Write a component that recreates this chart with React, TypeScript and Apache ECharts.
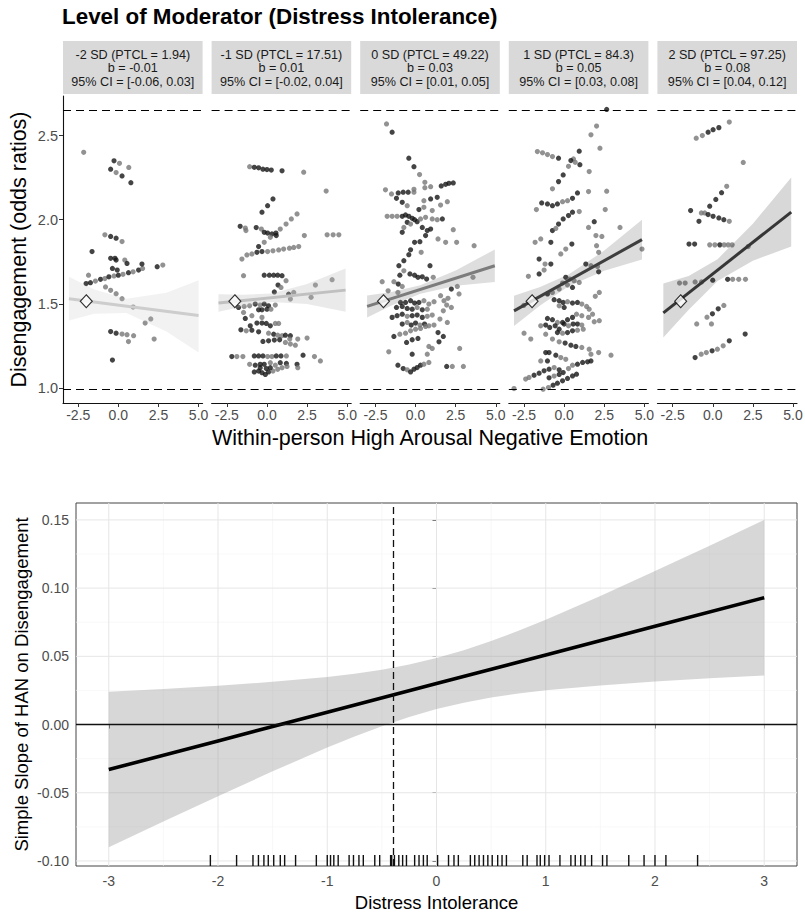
import React, { useEffect, useRef } from "react";
import * as echarts from "echarts";

const FONT = "'Liberation Sans', Arial, Helvetica, sans-serif";

// ---------- top facets ----------
const TITLE = "Level of Moderator (Distress Intolerance)";
const X_TITLE_TOP = "Within-person High Arousal Negative Emotion";
const Y_TITLE_TOP = "Disengagement (odds ratios)";
const stripLabels = [
  ["-2 SD (PTCL = 1.94)", "b = -0.01", "95% CI = [-0.06, 0.03]"],
  ["-1 SD (PTCL = 17.51)", "b = 0.01", "95% CI = [-0.02, 0.04]"],
  ["0 SD (PTCL = 49.22)", "b = 0.03", "95% CI = [0.01, 0.05]"],
  ["1 SD (PTCL = 84.3)", "b = 0.05", "95% CI = [0.03, 0.08]"],
  ["2 SD (PTCL = 97.25)", "b = 0.08", "95% CI = [0.04, 0.12]"],
];
const panelXTicks = [-2.5, 0, 2.5, 5];
const panelYTicks = [1.0, 1.5, 2.0, 2.5];
const refLines = [2.655, 0.99];
const diamondPt = [-2, 1.515];

// points: [x, y, k]  k = 1 black, 0 grey
const p1Points = [
  [-2.16, 2.4, 0], [-0.27, 2.35, 1], [0.07, 2.335, 0], [-0.48, 2.3, 1], [-0.14, 2.28, 0], [0.23, 2.26, 1], [0.65, 2.31, 0], [0.78, 2.22, 1],
  [-1.64, 1.81, 1], [-0.84, 1.91, 0], [-0.48, 1.9, 1], [-0.14, 1.89, 1], [0.23, 1.87, 0],
  [-0.48, 1.77, 1], [-0.21, 1.77, 1], [-0.14, 1.76, 1], [0.4, 1.76, 0], [0.54, 1.74, 1], [-0.37, 1.71, 1], [-0.07, 1.7, 1], [-1.86, 1.67, 0],
  [-2.01, 1.62, 1], [-1.74, 1.625, 1], [-1.43, 1.635, 0], [-1.11, 1.645, 1], [-0.84, 1.65, 0], [-0.59, 1.66, 1], [-0.27, 1.665, 0], [0.0, 1.67, 1],
  [0.29, 1.675, 0], [0.63, 1.685, 1], [0.92, 1.69, 0], [1.26, 1.7, 1], [1.51, 1.71, 0],
  [1.47, 1.736, 1], [2.42, 1.72, 1], [2.77, 1.73, 0],
  [-0.8, 1.6, 0], [-0.48, 1.58, 0], [-0.14, 1.56, 0], [0.23, 1.53, 0], [0.92, 1.48, 0],
  [1.67, 1.385, 0], [2.02, 1.41, 0], [2.23, 1.29, 0],
  [-0.48, 1.335, 1], [-0.14, 1.325, 1], [0.23, 1.32, 0], [0.54, 1.316, 0], [0.95, 1.31, 0], [0.63, 1.275, 0],
  [-0.37, 1.165, 1],
];
const p2Points = [
  [-1.08, 2.315, 0], [-0.79, 2.311, 1], [-0.52, 2.308, 1], [-0.25, 2.3, 1], [0, 2.298, 1], [0.27, 2.295, 1], [0.94, 2.29, 1], [2.29, 2.282, 0],
  [3.69, 2.17, 0], [0.375, 2.123, 1], [0.04, 2.083, 1], [-0.31, 2.044, 1],
  [-1.67, 1.96, 1], [-1.35, 1.95, 0], [-1.31, 1.935, 0], [-0.67, 1.953, 1], [-0.35, 1.944, 0], [-0.17, 1.925, 1], [0.04, 1.92, 1], [0.31, 1.915, 1],
  [0.56, 1.92, 1], [0.58, 1.905, 1], [0.21, 1.895, 0], [-0.17, 1.865, 0], [-0.52, 1.84, 1],
  [0.83, 1.944, 0], [1.19, 1.974, 0], [1.52, 2.004, 0], [1.875, 2.034, 0],
  [2.33, 1.905, 0], [3.75, 1.91, 0], [4.125, 1.91, 0], [4.48, 1.91, 0],
  [-1.56, 1.766, 0], [-1.25, 1.79, 0], [-0.94, 1.796, 0], [-0.625, 1.806, 1], [-0.31, 1.81, 1], [0.04, 1.81, 0], [0.375, 1.815, 0], [0.73, 1.82, 0],
  [1.04, 1.825, 0], [1.4, 1.83, 0], [1.67, 1.835, 0], [1.98, 1.84, 0],
  [-1.46, 1.667, 0], [-0.17, 1.67, 1], [0.15, 1.67, 1], [0.42, 1.67, 1], [0.67, 1.67, 1], [0.94, 1.667, 1], [1.19, 1.637, 0],
  [0.69, 1.611, 1], [0.875, 1.597, 0], [3.02, 1.611, 0], [4.06, 1.643, 0],
  [1.67, 1.567, 0], [1.35, 1.557, 1], [0.46, 1.57, 1], [2.75, 1.538, 0], [1.46, 1.528, 0],
  [-1.77, 1.478, 1], [-1.42, 1.484, 0], [-1.08, 1.488, 0], [-0.73, 1.498, 1], [-0.42, 1.492, 0], [-0.17, 1.498, 1], [0.1, 1.488, 1], [0.52, 1.492, 0],
  [-1.46, 1.448, 0], [-0.52, 1.464, 1], [-0.31, 1.464, 1], [0, 1.468, 1], [0.25, 1.468, 0],
  [-1.35, 1.413, 1], [-0.94, 1.429, 0], [-0.31, 1.419, 0],
  [-1.04, 1.369, 1], [-0.625, 1.385, 1], [-0.31, 1.385, 1], [-0.04, 1.383, 1], [0.21, 1.369, 1], [0.52, 1.383, 0], [0.73, 1.383, 0],
  [-1.625, 1.345, 1], [-1.29, 1.339, 0], [-0.94, 1.343, 1], [-0.52, 1.333, 1],
  [0.1, 1.325, 0], [0.42, 1.319, 1], [0.67, 1.313, 0], [0.94, 1.31, 0], [1.15, 1.313, 1], [1.46, 1.31, 1], [1.42, 1.29, 0], [1.92, 1.29, 0], [2.5, 1.296, 0],
  [-0.25, 1.276, 1], [0.1, 1.28, 1], [0.46, 1.284, 1], [0.79, 1.286, 1], [1.15, 1.27, 0], [1.46, 1.26, 0], [1.77, 1.254, 0],
  [-2.19, 1.186, 1], [-1.875, 1.186, 0], [-1.5, 1.186, 0], [-0.79, 1.19, 1], [-0.52, 1.19, 1], [-0.25, 1.19, 1], [0.04, 1.186, 0], [0.31, 1.186, 0],
  [0.58, 1.19, 1], [0.875, 1.19, 1], [1.21, 1.19, 0], [2.25, 1.194, 1], [2.96, 1.186, 0], [3.33, 1.16, 0],
  [-1.08, 1.14, 0], [-0.73, 1.135, 1], [-0.42, 1.14, 1], [-0.17, 1.14, 1], [0.21, 1.15, 0], [0.52, 1.135, 0], [0.83, 1.15, 1], [1.21, 1.145, 1],
  [1.875, 1.14, 1], [1.92, 1.12, 0],
  [-0.79, 1.095, 1], [-0.52, 1.1, 1], [-0.31, 1.09, 1], [-0.1, 1.08, 1], [0.1, 1.095, 1], [0.375, 1.1, 0], [0.67, 1.11, 0], [0.94, 1.12, 0],
  [1.25, 1.127, 0], [-0.42, 1.12, 1], [-0.04, 1.115, 1], [0.21, 1.12, 1],
];
const p3Points = [
  [-1.81, 2.569, 0], [-1.46, 2.52, 1], [-0.42, 2.365, 1], [-0.1, 2.315, 1], [0.25, 2.268, 0], [0.58, 2.222, 0], [0.94, 2.196, 0], [0.58, 2.19, 0],
  [1.6, 2.2, 1], [1.875, 2.21, 1], [2.08, 2.216, 1], [2.35, 2.218, 1],
  [-1.875, 2.177, 0], [-1.5, 2.153, 0], [-1.08, 2.159, 1], [-0.77, 2.163, 1], [-0.46, 2.163, 1], [-0.1, 2.163, 0], [-0.1, 2.18, 0],
  [-1.19, 2.127, 1], [-0.83, 2.103, 1], [-0.52, 2.083, 0], [0.52, 2.113, 0], [0.94, 2.123, 1], [1.35, 2.133, 1], [1.98, 2.107, 0], [1.56, 2.087, 0],
  [1.04, 2.054, 0], [0.52, 2.073, 0], [0.21, 2.06, 1],
  [-1.77, 2.02, 0], [-1.46, 2.02, 0], [-1.15, 2.02, 0], [-0.83, 2.02, 1], [-0.625, 2.028, 1], [-0.42, 2.02, 1], [-0.21, 2.008, 1], [-0.06, 2.0, 1],
  [0.1, 1.988, 1], [0.31, 2.004, 0], [0.625, 2.014, 0], [1.04, 2.004, 0], [1.35, 2.0, 0], [1.67, 2.004, 1],
  [-0.52, 1.984, 1], [-0.31, 1.974, 0], [-0.73, 1.954, 0], [-0.83, 1.925, 1], [0.42, 1.954, 1], [0.73, 1.935, 1], [0.94, 1.944, 1], [0.625, 1.905, 1],
  [1.4, 1.885, 0], [1.875, 1.865, 0], [2.35, 1.94, 0], [2.56, 1.865, 0], [3.65, 1.845, 0],
  [-0.06, 1.865, 1], [0.27, 1.869, 1], [-0.31, 1.821, 1], [0.35, 1.806, 0], [-0.42, 1.792, 1], [-0.73, 1.756, 1], [-1.04, 1.726, 1], [-0.73, 1.696, 0], [-0.98, 1.67, 1],
  [-0.35, 1.677, 1], [-0.06, 1.67, 1], [0.15, 1.657, 1], [0.42, 1.66, 1], [0.69, 1.647, 1], [0.9, 1.726, 1], [1.1, 1.657, 0],
  [-2.08, 1.631, 0], [-1.35, 1.631, 0], [-1.08, 1.617, 1], [-0.83, 1.603, 0], [-1.71, 1.577, 0], [-1.1, 1.567, 0],
  [3.58, 1.657, 0], [2.6, 1.603, 0], [2.23, 1.587, 1], [2.71, 1.558, 0], [1.56, 1.548, 0], [2.02, 1.532, 0], [1.77, 1.518, 0], [1.94, 1.492, 0],
  [2.23, 1.478, 0], [1.73, 1.458, 0], [1.98, 1.389, 0], [1.52, 1.409, 0],
  [-0.94, 1.508, 1], [-0.625, 1.508, 1], [-0.31, 1.518, 1], [-0.06, 1.504, 1], [0.21, 1.508, 1], [0.52, 1.518, 0], [0.83, 1.498, 0], [1.15, 1.512, 0],
  [-1.19, 1.478, 1], [-0.83, 1.484, 1], [-0.52, 1.472, 1], [-0.21, 1.468, 1], [0.1, 1.478, 0], [0.42, 1.464, 1], [0.73, 1.468, 0],
  [-1.46, 1.419, 1], [-1.15, 1.429, 1], [-0.83, 1.438, 1], [-0.52, 1.425, 0], [-0.21, 1.429, 1], [0.1, 1.433, 1], [0.42, 1.419, 1], [0.73, 1.425, 0], [1.04, 1.433, 0],
  [-0.83, 1.379, 1], [-0.52, 1.389, 0], [-0.27, 1.373, 1], [0, 1.385, 1], [0.27, 1.373, 0], [0.56, 1.379, 1], [0.83, 1.369, 0], [1.15, 1.373, 0],
  [-1.35, 1.306, 1], [-0.98, 1.319, 0], [-0.625, 1.325, 0], [-0.31, 1.339, 0], [0, 1.349, 0], [0.31, 1.353, 0], [0.625, 1.365, 0],
  [-0.56, 1.27, 1], [-0.21, 1.286, 1], [0.15, 1.294, 1], [1.4, 1.329, 1], [1.73, 1.306, 1], [1.46, 1.274, 1],
  [-1.67, 1.214, 0], [-0.21, 1.2, 1], [0.83, 1.246, 0], [1.04, 1.234, 0], [0.73, 1.2, 0], [2.75, 1.234, 0],
  [-1.1, 1.135, 1], [-0.77, 1.115, 1], [-0.52, 1.107, 0], [-0.31, 1.095, 1], [-0.1, 1.111, 1], [0.1, 1.121, 1], [0.31, 1.135, 1], [0.52, 1.141, 0], [0.83, 1.151, 0],
  [1.94, 1.127, 1], [2.29, 1.127, 0], [2.98, 1.127, 0],
];
const p4Points = [
  [2.65, 2.655, 1], [2.02, 2.556, 0], [1.67, 2.504, 0], [2.23, 2.425, 0], [1.56, 2.286, 0],
  [0.94, 2.407, 1], [0.58, 2.361, 0], [0.42, 2.351, 1], [0.69, 2.341, 0], [0.98, 2.327, 1], [0.27, 2.317, 0],
  [-1.67, 2.405, 0], [-1.35, 2.397, 0], [-1.04, 2.387, 0], [-0.73, 2.375, 0], [-0.35, 2.365, 1],
  [-0.06, 2.266, 1], [-0.35, 2.226, 1], [-0.73, 2.183, 0],
  [2.65, 2.169, 0], [1.52, 2.167, 0], [0.83, 2.159, 1], [0.52, 2.127, 1], [0.21, 2.113, 0], [-0.1, 2.107, 0], [-0.42, 2.093, 1], [-0.73, 2.083, 1],
  [-1.04, 2.093, 1], [-1.4, 2.099, 1], [-1.73, 2.06, 0],
  [2.56, 2.06, 0], [0.94, 2.048, 0],
  [0.52, 2.044, 1], [0.27, 2.024, 1], [-0.06, 2.004, 1], [-0.35, 1.974, 1], [-0.73, 1.935, 1], [-0.52, 1.948, 0],
  [1.875, 1.988, 1], [1.52, 1.954, 0], [3.48, 1.954, 0], [1.98, 1.905, 0], [2.35, 1.9, 0],
  [-1.81, 1.865, 0], [-1.46, 1.885, 0], [-0.83, 1.865, 1], [-0.21, 1.796, 0], [0.1, 1.825, 0], [0.48, 1.855, 1], [2.02, 1.845, 0], [2.15, 1.806, 0],
  [4.85, 1.825, 0],
  [-1.56, 1.766, 1], [-1.19, 1.736, 0], [-0.83, 1.736, 1], [-1.56, 1.677, 1], [-2.23, 1.663, 0], [-1.25, 1.7, 0],
  [1.67, 1.726, 0], [1.35, 1.736, 1], [2.08, 1.722, 0], [2.15, 1.69, 1],
  [0.1, 1.657, 1], [0.35, 1.647, 0], [0.625, 1.637, 0], [0.94, 1.627, 0], [-0.1, 1.623, 0], [0.21, 1.611, 0], [0.52, 1.597, 1], [-0.31, 1.587, 0],
  [-0.73, 1.567, 0], [-1.04, 1.558, 1], [2.19, 1.567, 0], [1.94, 1.544, 0],
  [-0.625, 1.524, 1], [-0.31, 1.518, 1], [-0.06, 1.508, 1], [0.21, 1.512, 0], [0.52, 1.504, 1], [0.83, 1.508, 1], [1.1, 1.498, 0], [1.4, 1.484, 0],
  [1.56, 1.468, 0], [-0.31, 1.488, 0], [0.0, 1.478, 1],
  [-1.04, 1.413, 1], [-0.73, 1.405, 1], [-0.42, 1.389, 0], [-0.1, 1.389, 1], [0.21, 1.405, 1], [0.52, 1.419, 1], [0.77, 1.438, 0], [1.1, 1.429, 0],
  [1.52, 1.419, 0], [1.77, 1.438, 0],
  [-1.46, 1.369, 0], [-1.15, 1.373, 1], [-0.9, 1.359, 1], [-0.56, 1.369, 1], [-0.31, 1.349, 1], [0, 1.379, 1], [0.27, 1.369, 0], [0.56, 1.379, 1],
  [0.83, 1.379, 1], [1.1, 1.373, 0], [1.875, 1.393, 0], [2.19, 1.399, 0],
  [-2.5, 1.325, 0], [-2.08, 1.29, 0], [-1.15, 1.319, 0], [-0.42, 1.329, 1], [-0.1, 1.325, 0], [0.21, 1.329, 1], [0.52, 1.339, 1], [0.83, 1.343, 0], [1.19, 1.349, 0],
  [-0.73, 1.29, 0], [-0.31, 1.274, 0], [0.06, 1.266, 1], [0.42, 1.254, 1], [0.73, 1.246, 1], [1.1, 1.24, 0], [1.56, 1.23, 0], [1.67, 1.2, 0], [2.15, 1.21, 0], [2.92, 1.194, 0],
  [-1.15, 1.21, 1], [-0.94, 1.21, 1], [-0.52, 1.194, 1], [-0.21, 1.18, 0], [0.1, 1.17, 0], [-1.46, 1.16, 0], [-1.04, 1.16, 1],
  [-2.19, 1.062, 0], [-1.875, 1.075, 1], [-1.56, 1.087, 1], [-1.25, 1.101, 1], [-0.94, 1.111, 1], [-0.625, 1.121, 0], [-0.31, 1.107, 1], [-0.06, 1.091, 1],
  [0.27, 1.115, 0], [0.52, 1.135, 0], [0.83, 1.141, 1], [1.15, 1.151, 1], [1.46, 1.155, 1], [1.67, 1.16, 1],
  [-1.31, 0.992, 0], [-0.98, 1.002, 0], [-0.69, 1.016, 1], [-0.42, 1.028, 1], [-0.1, 1.042, 1], [0.21, 1.056, 1], [0.52, 1.071, 1], [0.77, 1.081, 1],
  [-0.94, 1.06, 1], [-0.625, 1.07, 0], [-0.31, 1.08, 1],
  [-3.125, 0.996, 0], [-2.4, 1.052, 0], [-2.52, 1.49, 0],
];
const p5Points = [
  [-1.03, 2.484, 0], [-0.65, 2.5, 0], [-0.29, 2.52, 1], [0.02, 2.535, 1], [0.38, 2.547, 1], [1.03, 2.58, 0],
  [1.9, 2.34, 0], [0.87, 2.198, 0], [0.55, 2.16, 1], [0.19, 2.12, 1], [-0.19, 2.08, 1], [-1.38, 2.054, 1],
  [-0.71, 2.04, 0], [-0.5, 2.04, 0], [-0.29, 2.03, 1], [0.02, 2.02, 1], [0.38, 2.01, 1], [0.69, 2.0, 1], [1.03, 1.99, 0], [-0.86, 1.99, 1],
  [-1.48, 1.855, 1], [-1.13, 1.855, 1],
  [-0.19, 1.85, 0], [0.13, 1.85, 0], [0.44, 1.85, 1], [0.71, 1.85, 0], [0.96, 1.85, 0], [1.21, 1.85, 0], [2.21, 1.84, 0],
  [-2.07, 1.623, 0], [-1.72, 1.623, 0], [-1.1, 1.63, 0], [-0.7, 1.63, 0], [0.0, 1.64, 1],
  [0.93, 1.645, 1], [1.24, 1.645, 0], [1.62, 1.645, 0], [2.04, 1.645, 0],
  [-1.0, 1.38, 0], [-0.08, 1.38, 0], [-0.36, 1.42, 0], [-0.02, 1.44, 1], [0.34, 1.47, 1], [0.69, 1.49, 0],
  [-1.1, 1.18, 1], [-0.72, 1.2, 0], [-0.4, 1.21, 0], [-0.04, 1.22, 1], [0.29, 1.23, 0], [0.65, 1.25, 0],
  [1.03, 1.28, 1], [2.02, 1.32, 1],
];
const panelPoints = [p1Points, p2Points, p3Points, p4Points, p5Points];

// fitted lines [x0, y0, x1, y1]
const fitLines = [
  [-3.08, 1.53, 5.0, 1.43],
  [-3.02, 1.504, 4.9, 1.581],
  [-3.02, 1.484, 4.94, 1.726],
  [-3.125, 1.458, 4.85, 1.881],
  [-3.08, 1.446, 4.89, 2.045],
];
// confidence bands
const bandXs = [
  [-3.08, -1.5, 0.5, 3, 5.0],
  [-3.02, -1.5, 0.3, 2.5, 4.9],
  [-3.02, -1.5, 0.3, 2.5, 4.94],
  [-3.125, -1.5, 0.3, 2.5, 4.85],
  [-3.08, -1.5, 0.3, 2.5, 4.89],
];
const bandLos = [
  [1.4, 1.44, 1.445, 1.335, 1.21],
  [1.452, 1.484, 1.511, 1.498, 1.453],
  [1.419, 1.49, 1.56, 1.607, 1.629],
  [1.368, 1.489, 1.605, 1.696, 1.763],
  [1.3, 1.465, 1.635, 1.756, 1.84],
];
const bandHis = [
  [1.66, 1.585, 1.53, 1.565, 1.64],
  [1.556, 1.554, 1.561, 1.618, 1.709],
  [1.549, 1.57, 1.61, 1.697, 1.823],
  [1.548, 1.599, 1.675, 1.816, 1.999],
  [1.62, 1.665, 1.765, 1.976, 2.25],
];
const lineColors = ["#cdcdcd", "#c0c0c0", "#7c7c7c", "#3e3e3e", "#363636"];
const bandColors = [
  "rgba(190,190,190,0.2)",
  "rgba(180,180,180,0.28)",
  "rgba(128,128,128,0.26)",
  "rgba(60,60,60,0.18)",
  "rgba(50,50,50,0.19)",
];

// ---------- bottom plot ----------
const Y_TITLE_BOT = "Simple Slope of HAN on Disengagement";
const X_TITLE_BOT = "Distress Intolerance";
const slopeX = [-3, -2, -1, 0, 1, 2, 3];
const slopeY = [-0.033, -0.012, 0.009, 0.03, 0.051, 0.072, 0.093];
const ciX = [-3, -2.5, -2, -1.5, -1, -0.75, -0.5, -0.25, 0, 0.25, 0.5, 0.75, 1, 1.5, 2, 2.5, 3];
const ciUpper = [0.024, 0.0261, 0.0285, 0.0313, 0.0349, 0.0373, 0.0402, 0.044, 0.0487, 0.0545, 0.0612, 0.0688, 0.0769, 0.0943, 0.1125, 0.1311, 0.15];
const ciLower = [-0.09, -0.0711, -0.0525, -0.0343, -0.0169, -0.0088, -0.0012, 0.0055, 0.0113, 0.016, 0.0198, 0.0227, 0.0251, 0.0287, 0.0315, 0.0339, 0.036];
const rugX = [
  -2.07, -1.83, -1.68, -1.63, -1.58, -1.54, -1.49, -1.43, -1.39, -1.29, -1.1, -1.0, -0.97, -0.94, -0.9, -0.8, -0.76, -0.71, -0.67,
  -0.565, -0.52, -0.42, -0.41, -0.385, -0.345, -0.31, -0.275, -0.2, -0.16, -0.12, -0.085, 0.01, 0.11, 0.16, 0.2, 0.31, 0.35, 0.39,
  0.43, 0.47, 0.51, 0.56, 0.6, 0.64, 0.79, 0.83, 0.92, 0.95, 0.99, 1.03, 1.13, 1.23, 1.27, 1.32, 1.36, 1.42, 1.52, 1.56, 1.76, 1.9,
  2.0, 2.1, 2.39,
];
const meanMarker = -0.4;
const zeroLine = 0;
const botXTicks = [-3, -2, -1, 0, 1, 2, 3];
const botXMinor = [-2.5, -1.5, -0.5, 0.5, 1.5, 2.5];
const botYTicks = [-0.1, -0.05, 0, 0.05, 0.1, 0.15];
const botYMinor = [-0.075, -0.025, 0.025, 0.075, 0.125];

// layout
const P_LEFT = 63;
const P_STEP = 148.6;
const P_W = 139.6;
const P_TOP = 96;
const P_H = 307;
const PX_MIN = -3.45;
const PX_MAX = 5.25;
const PY_MIN = 0.91;
const PY_MAX = 2.735;
const B_LEFT = 76;
const B_TOP = 503;
const B_W = 721;
const B_H = 363;
const BX_MIN = -3.3;
const BX_MAX = 3.3;
const BY_MIN = -0.1037;
const BY_MAX = 0.1624;

function buildOption() {
  const grid: any[] = [];
  const xAxis: any[] = [];
  const yAxis: any[] = [];
  const series: any[] = [];
  const graphic: any[] = [];

  graphic.push({
    type: "text",
    left: P_LEFT - 1,
    top: 5,
    style: { text: TITLE, fontSize: 22.4, fontWeight: "bold", fontFamily: FONT, fill: "#000" },
  });

  for (let i = 0; i < 5; i++) {
    const left = P_LEFT + i * P_STEP;
    grid.push({ left, top: P_TOP, width: P_W, height: P_H, containLabel: false, outerBoundsMode: "none" });
    xAxis.push({
      gridIndex: i,
      type: "value",
      min: PX_MIN,
      max: PX_MAX,
      axisLine: { show: true, onZero: false, lineStyle: { color: "#111", width: 1.1 } },
      axisTick: { show: true, length: 4, customValues: panelXTicks, lineStyle: { color: "#333" } },
      axisLabel: {
        customValues: panelXTicks,
        formatter: (v: number) => v.toFixed(1),
        fontSize: 14,
        color: "#4d4d4d",
        margin: 5,
        fontFamily: FONT,
      },
      splitLine: { show: false },
    });
    yAxis.push({
      gridIndex: i,
      type: "value",
      min: PY_MIN,
      max: PY_MAX,
      show: i === 0,
      axisLine: { show: true, onZero: false, lineStyle: { color: "#111", width: 1.1 } },
      axisTick: { show: true, length: 4, customValues: panelYTicks, lineStyle: { color: "#333" } },
      axisLabel: {
        customValues: panelYTicks,
        formatter: (v: number) => v.toFixed(1),
        fontSize: 14.5,
        color: "#4d4d4d",
        margin: 5,
        fontFamily: FONT,
      },
      splitLine: { show: false },
    });

    const pts = panelPoints[i];
    series.push({
      type: "scatter",
      xAxisIndex: i,
      yAxisIndex: i,
      symbolSize: 5.2,
      z: 2,
      data: pts.map((p) => ({
        value: [p[0], p[1]],
        itemStyle: { color: p[2] === 1 ? "#151515" : "#777777" },
      })),
      markLine: {
        silent: true,
        symbol: "none",
        label: { show: false },
        lineStyle: { color: "#000", width: 1.2, type: [8, 5] },
        data: refLines.map((v) => ({ yAxis: v })),
      },
    });

    const bx = bandXs[i];
    const blo = bandLos[i];
    const bhi = bandHis[i];
    const fill = bandColors[i];
    series.push({
      type: "custom",
      xAxisIndex: i,
      yAxisIndex: i,
      z: 3,
      silent: true,
      data: [[bx[0], blo[0]]],
      renderItem: (params: any, api: any) => {
        const pts2: number[][] = [];
        for (let k = 0; k < bx.length; k++) pts2.push(api.coord([bx[k], bhi[k]]));
        for (let k = bx.length - 1; k >= 0; k--) pts2.push(api.coord([bx[k], blo[k]]));
        return { type: "polygon", shape: { points: pts2 }, style: { fill } };
      },
    });

    const fl = fitLines[i];
    series.push({
      type: "line",
      xAxisIndex: i,
      yAxisIndex: i,
      z: 4,
      showSymbol: false,
      symbol: "none",
      lineStyle: { color: lineColors[i], width: 3 },
      data: [
        [fl[0], fl[1]],
        [fl[2], fl[3]],
      ],
    });

    series.push({
      type: "scatter",
      xAxisIndex: i,
      yAxisIndex: i,
      z: 5,
      symbol: "diamond",
      symbolSize: [12, 13],
      itemStyle: { color: "#fff", borderColor: "#000", borderWidth: 1.1 },
      data: [diamondPt],
    });

    graphic.push({
      type: "rect",
      shape: { x: left, y: 41, width: P_W, height: 53 },
      style: { fill: "#d9d9d9" },
    });
    graphic.push({
      type: "text",
      x: left + P_W / 2,
      y: 68,
      style: {
        text: stripLabels[i].join("\n"),
        align: "center",
        verticalAlign: "middle",
        textAlign: "center",
        textVerticalAlign: "middle",
        fontSize: 12.6,
        lineHeight: 13.5,
        fontFamily: FONT,
        fill: "#1a1a1a",
      },
    });
  }

  graphic.push({
    type: "text",
    x: (P_LEFT + P_LEFT + 4 * P_STEP + P_W) / 2,
    y: 438,
    style: {
      text: X_TITLE_TOP,
      align: "center",
      verticalAlign: "middle",
      textAlign: "center",
      textVerticalAlign: "middle",
      fontSize: 21.5,
      fontFamily: FONT,
      fill: "#000",
    },
  });
  graphic.push({
    type: "text",
    x: 19,
    y: P_TOP + P_H / 2,
    rotation: Math.PI / 2,
    style: {
      text: Y_TITLE_TOP,
      align: "center",
      verticalAlign: "middle",
      textAlign: "center",
      textVerticalAlign: "middle",
      fontSize: 21.5,
      fontFamily: FONT,
      fill: "#000",
    },
  });

  // ---------- bottom ----------
  const bi = 5;
  grid.push({
    left: B_LEFT,
    top: B_TOP,
    width: B_W,
    height: B_H,
    show: true,
    borderColor: "#444",
    borderWidth: 1,
    backgroundColor: "transparent",
    containLabel: false,
    outerBoundsMode: "none",
  });
  xAxis.push({
    gridIndex: bi,
    type: "value",
    min: BX_MIN,
    max: BX_MAX,
    axisLine: { show: false },
    axisTick: { show: true, length: 4, customValues: botXTicks, lineStyle: { color: "#333" } },
    axisLabel: { customValues: botXTicks, fontSize: 14, color: "#4d4d4d", margin: 8, fontFamily: FONT },
    splitLine: { show: false },
  });
  yAxis.push({
    gridIndex: bi,
    type: "value",
    min: BY_MIN,
    max: BY_MAX,
    axisLine: { show: false },
    axisTick: { show: true, length: 4, customValues: botYTicks, lineStyle: { color: "#333" } },
    axisLabel: {
      customValues: botYTicks,
      formatter: (v: number) => v.toFixed(2),
      fontSize: 14,
      color: "#4d4d4d",
      margin: 7,
      fontFamily: FONT,
    },
    splitLine: { show: false },
  });

  const gridLineSeries = (vals: number[], vertical: boolean, color: string, width: number) => ({
    type: "custom",
    xAxisIndex: bi,
    yAxisIndex: bi,
    z: 1,
    silent: true,
    data: vals.map((v) => (vertical ? [v, 0] : [0, v])),
    renderItem: (params: any, api: any) => {
      const a = vertical ? api.coord([api.value(0), BY_MIN]) : api.coord([BX_MIN, api.value(1)]);
      const b = vertical ? api.coord([api.value(0), BY_MAX]) : api.coord([BX_MAX, api.value(1)]);
      return {
        type: "line",
        shape: { x1: a[0], y1: a[1], x2: b[0], y2: b[1] },
        style: { stroke: color, lineWidth: width },
      };
    },
  });
  series.push(gridLineSeries(botXMinor, true, "#f3f3f3", 0.6));
  series.push(gridLineSeries(botYMinor, false, "#f3f3f3", 0.6));
  series.push(gridLineSeries(botXTicks, true, "#e6e6e6", 1));
  series.push(gridLineSeries(botYTicks, false, "#e6e6e6", 1));

  series.push({
    type: "custom",
    xAxisIndex: bi,
    yAxisIndex: bi,
    z: 2,
    silent: true,
    data: [[ciX[0], ciLower[0]]],
    renderItem: (params: any, api: any) => {
      const pts2: number[][] = [];
      for (let k = 0; k < ciX.length; k++) pts2.push(api.coord([ciX[k], ciUpper[k]]));
      for (let k = ciX.length - 1; k >= 0; k--) pts2.push(api.coord([ciX[k], ciLower[k]]));
      return { type: "polygon", shape: { points: pts2 }, style: { fill: "rgba(150,150,150,0.38)" } };
    },
  });

  series.push({
    type: "custom",
    xAxisIndex: bi,
    yAxisIndex: bi,
    z: 3,
    silent: true,
    clip: false,
    data: rugX.map((x) => [x, BY_MIN]),
    renderItem: (params: any, api: any) => {
      const p = api.coord([api.value(0), BY_MIN]);
      return {
        type: "line",
        shape: { x1: p[0], y1: p[1], x2: p[0], y2: p[1] - 11 },
        style: { stroke: "#111", lineWidth: 1.4 },
      };
    },
  });

  series.push({
    type: "line",
    xAxisIndex: bi,
    yAxisIndex: bi,
    z: 4,
    showSymbol: false,
    symbol: "none",
    lineStyle: { color: "#000", width: 3.6 },
    data: slopeX.map((x, k) => [x, slopeY[k]]),
    markLine: {
      silent: true,
      symbol: "none",
      label: { show: false },
      data: [
        { yAxis: zeroLine, lineStyle: { color: "#111", width: 1.3, type: "solid" } },
        { xAxis: meanMarker, lineStyle: { color: "#111", width: 1.3, type: [7, 4] } },
      ],
    },
  });

  graphic.push({
    type: "text",
    x: 21,
    y: B_TOP + B_H / 2,
    rotation: Math.PI / 2,
    style: {
      text: Y_TITLE_BOT,
      align: "center",
      verticalAlign: "middle",
      textAlign: "center",
      textVerticalAlign: "middle",
      fontSize: 18.5,
      fontFamily: FONT,
      fill: "#000",
    },
  });
  graphic.push({
    type: "text",
    x: B_LEFT + B_W / 2,
    y: 902,
    style: {
      text: X_TITLE_BOT,
      align: "center",
      verticalAlign: "middle",
      textAlign: "center",
      textVerticalAlign: "middle",
      fontSize: 18.5,
      fontFamily: FONT,
      fill: "#000",
    },
  });

  return {
    animation: false,
    backgroundColor: "#fff",
    textStyle: { fontFamily: FONT },
    grid,
    xAxis,
    yAxis,
    series,
    graphic,
  };
}

export default function App() {
  const ref = useRef<HTMLDivElement>(null);
  useEffect(() => {
    document.body.style.margin = "0";
    const chart = echarts.init(ref.current as HTMLDivElement, null, { renderer: "svg" });
    chart.setOption(buildOption() as any);
    return () => chart.dispose();
  }, []);
  return <div ref={ref} style={{ width: 805, height: 914 }} />;
}
